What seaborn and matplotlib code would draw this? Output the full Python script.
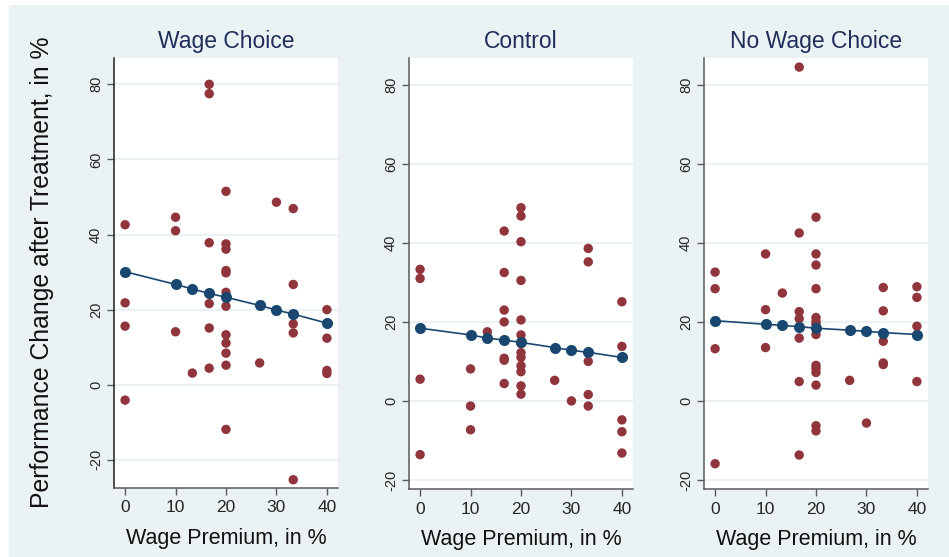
import numpy as np
import pandas as pd
import matplotlib
matplotlib.use("Agg")
import matplotlib.pyplot as plt
import seaborn as sns
from matplotlib.patches import Rectangle

sns.set_theme(style="white")
plt.rcParams['font.family'] = ['Liberation Sans', 'DejaVu Sans']
plt.rcParams['axes.unicode_minus'] = False

# panel titles
panels = ["Wage Choice", "Control", "No Wage Choice"]

# observed points (wage premium, performance change)
wc_x = [0, 0, 0, 0, 10, 10, 10, 13.33, 16.67, 16.67, 16.67, 16.67, 16.67, 16.67,
        20, 20, 20, 20, 20, 20, 20, 20, 20, 20, 20, 20, 26.67, 30,
        33.33, 33.33, 33.33, 33.33, 33.33, 40, 40, 40, 40]
wc_y = [42.6, 21.8, 15.6, -4.1, 44.6, 41.0, 14.1, 3.1, 80.0, 77.5, 37.8, 21.6, 15.1, 4.4,
        51.5, 37.5, 36.1, 30.4, 29.8, 24.6, 20.9, 13.3, 11.1, 8.4, 5.2, -11.9, 5.8, 48.6,
        46.9, 26.7, 16.2, 13.8, -25.3, 20.0, 12.4, 3.8, 3.0]

ct_x = [0, 0, 0, 0, 10, 10, 10, 13.33, 16.67, 16.67, 16.67, 16.67, 16.67, 16.67, 16.67,
        20, 20, 20, 20, 20, 20, 20, 20, 20, 20, 20, 20, 20, 26.67, 30,
        33.33, 33.33, 33.33, 33.33, 33.33, 40, 40, 40, 40, 40]
ct_y = [33.3, 31.0, 5.5, -13.6, 8.1, -1.3, -7.3, 17.5, 43.0, 32.5, 23.0, 20.0, 10.8, 10.3, 4.4,
        48.9, 46.8, 40.3, 30.5, 20.5, 16.7, 12.2, 11.0, 8.9, 7.4, 3.8, 1.7, 14.5, 5.2, 0.0,
        38.6, 35.2, 10.0, 1.6, -1.3, 25.1, 13.8, -4.8, -7.8, -13.2]

nw_x = [0, 0, 0, 0, 10, 10, 10, 13.33, 16.67, 16.67, 16.67, 16.67, 16.67, 16.67, 16.67,
        20, 20, 20, 20, 20, 20, 20, 20, 20, 20, 20, 20, 20, 20, 26.67, 30,
        33.33, 33.33, 33.33, 33.33, 33.33, 40, 40, 40, 40, 40]
nw_y = [32.6, 28.4, 13.2, -15.9, 37.2, 23.1, 13.5, 27.3, 84.5, 42.5, 22.6, 20.8, 15.9, 4.9, -13.7,
        46.5, 37.2, 34.4, 28.4, 21.1, 20.1, 16.8, 9.0, 8.2, 7.2, 4.0, -6.3, -7.6, 19.4, 5.2, -5.6,
        28.7, 22.8, 15.1, 9.6, 9.2, 28.9, 26.2, 18.9, 16.8, 4.9]

# fitted values at the distinct premiums
fit_x = [0, 10, 13.33, 16.67, 20, 26.67, 30, 33.33, 40]
wc_fit = [30.1, 26.7, 25.5, 24.3, 23.3, 21.1, 19.9, 18.8, 16.4]
ct_fit = [18.4, 16.7, 15.9, 15.4, 14.8, 13.5, 12.8, 12.3, 11.0]
nw_fit = [20.3, 19.4, 19.1, 18.8, 18.4, 17.9, 17.6, 17.3, 16.8]

yticks = [-20, 0, 20, 40, 60, 80]
xticks = [0, 10, 20, 30, 40]

RED = "#90353B"
NAVY = "#1A476F"
BG = "#EAF2F3"
W, H = 949, 557

fig = plt.figure(figsize=(W / 100, H / 100), dpi=100, facecolor="white")
fig.patches.append(Rectangle((9 / W, 0), 1, 1 - 5 / H, transform=fig.transFigure,
                             facecolor=BG, edgecolor="none", zorder=-10))

boxes = [(114, 338, 58, 488), (409, 633, 58, 489), (704, 928, 58, 489)]
ylims = [(-27.5, 87), (-22.3, 86.8), (-22.3, 86.8)]
series = [(wc_x, wc_y, wc_fit), (ct_x, ct_y, ct_fit), (nw_x, nw_y, nw_fit)]

for i, (title, (l, r, t, b), (xs, ys, fit)) in enumerate(zip(panels, boxes, series)):
    ax = fig.add_axes([l / W, 1 - b / H, (r - l) / W, (b - t) / H])
    ax.set_facecolor("white")
    pts = pd.DataFrame({"x": xs, "y": ys})
    line = pd.DataFrame({"x": fit_x, "y": fit})
    sns.scatterplot(data=pts, x="x", y="y", ax=ax, color=RED, s=46,
                    edgecolor="none", zorder=3)
    sns.lineplot(data=line, x="x", y="y", ax=ax, color=NAVY, lw=1.2,
                 marker="o", markersize=8, markeredgewidth=0, zorder=4)
    ax.set_xlim(-2.2, 42.2)
    ax.set_ylim(*ylims[i])
    ax.set_yticks(yticks)
    ax.set_xticks(xticks)
    ax.grid(axis="y", color=BG, lw=1.5)
    ax.set_axisbelow(True)
    for s in ["top", "right"]:
        ax.spines[s].set_visible(False)
    spc = "#222222" if i == 0 else "#5a5a5a"
    ax.spines["left"].set_color(spc)
    ax.spines["bottom"].set_color("#5a5a5a")
    ax.spines["left"].set_linewidth(1.1)
    ax.spines["bottom"].set_linewidth(1.1)
    ax.tick_params(axis="y", direction="out", length=5, width=1, color="#5a5a5a",
                   labelsize=10.5, labelrotation=90, pad=3, left=True)
    ax.tick_params(axis="x", direction="out", length=5, width=1, color="#5a5a5a",
                   labelsize=12.5, pad=4, bottom=True)
    for lab in ax.get_yticklabels():
        lab.set_va("center")
    ax.set_title(title, fontsize=16.5, color="#1E2D5A", pad=7)
    ax.set_xlabel("Wage Premium, in %", fontsize=15.5, color="#111111", labelpad=9)
    ax.set_ylabel("")

fig.text(42 / W, 1 - 272 / H, "Performance Change after Treatment, in %",
         rotation=90, ha="center", va="center", fontsize=17.8, color="#111111")

fig.savefig("out.png", dpi=100, facecolor=fig.get_facecolor())
